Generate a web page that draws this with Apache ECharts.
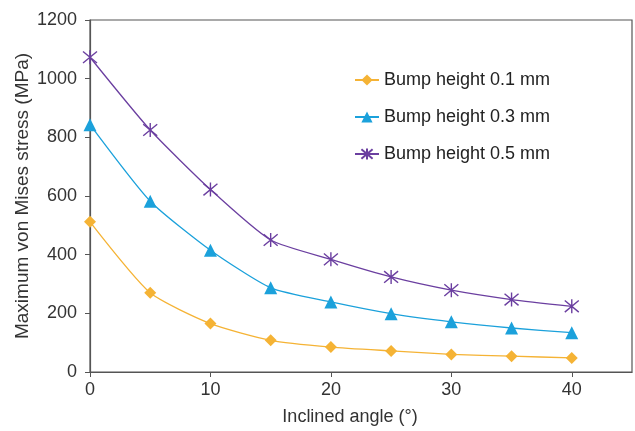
<!DOCTYPE html>
<html>
<head>
<meta charset="utf-8">
<script src="https://cdn.jsdelivr.net/npm/echarts@6/dist/echarts.min.js"></script>
<style>
  html, body { margin: 0; padding: 0; background: #fff; }
  #chart { width: 635px; height: 431px; }
</style>
</head>
<body>
<div id="chart"></div>
<script>
// 数据
var angles = [0, 5, 10, 15, 20, 25, 30, 35, 40];
var h01 = [512, 270, 165, 108, 85, 72, 60, 54, 48];
var h03 = [843, 582, 415, 287, 239, 199, 171, 150, 134];
var h05 = [1073, 825, 622, 450, 384, 324, 279, 247, 224];
var seriesNames = ["Bump height 0.1 mm", "Bump height 0.3 mm", "Bump height 0.5 mm"];
var xTicks = [0, 10, 20, 30, 40];

var asterisk = "path://M0,0L10,10M10,0L0,10M5,-1L5,11";

function pairs(ys) {
  return angles.map(function (a, i) { return [a, ys[i]]; });
}

var chart = echarts.init(document.getElementById("chart"));
chart.setOption({
  animation: false,
  textStyle: { fontFamily: "Liberation Sans, Arial, sans-serif" },
  grid: {
    left: 90, right: 3, top: 20, bottom: 59,
    outerBoundsMode: "none",
    containLabel: false,
    show: true, borderColor: "#555", borderWidth: 1.2, backgroundColor: "transparent"
  },
  legend: {
    orient: "vertical",
    left: 349, top: 66,
    itemGap: 19,
    itemWidth: 24, itemHeight: 14,
    textStyle: { fontSize: 18, color: "#222" },
    data: seriesNames
  },
  xAxis: {
    type: "value",
    min: 0, max: 45,
    name: "Inclined angle (°)",
    nameLocation: "middle",
    nameGap: 36,
    nameMoveOverlap: false,
    nameTextStyle: { fontSize: 18, color: "#333", padding: [0, 22, 0, 0] },
    axisLine: { lineStyle: { color: "#555", width: 1.2 } },
    axisTick: { show: true, length: 5, lineStyle: { color: "#555" }, customValues: xTicks },
    axisLabel: { fontSize: 18, color: "#333", margin: 9, customValues: xTicks },
    splitLine: { show: false }
  },
  yAxis: {
    type: "value",
    min: 0, max: 1200, interval: 200,
    name: "Maximum von Mises stress (MPa)",
    nameLocation: "middle",
    nameGap: 58,
    nameMoveOverlap: false,
    nameTextStyle: { fontSize: 19, color: "#333" },
    axisLine: { show: true, lineStyle: { color: "#555", width: 1.2 } },
    axisTick: { show: true, length: 5, lineStyle: { color: "#555" } },
    axisLabel: { fontSize: 18, color: "#333", margin: 13, formatter: function (v) { return String(v); } },
    splitLine: { show: false }
  },
  series: [
    {
      name: seriesNames[0], type: "line", data: pairs(h01),
      smooth: 0.2,
      symbol: "diamond", symbolSize: 12,
      lineStyle: { color: "#F5B335", width: 1.3 },
      itemStyle: { color: "#F5B335" }
    },
    {
      name: seriesNames[1], type: "line", data: pairs(h03),
      smooth: 0.2,
      symbol: "triangle", symbolSize: 13,
      lineStyle: { color: "#1BA1DB", width: 1.3 },
      itemStyle: { color: "#1BA1DB" }
    },
    {
      name: seriesNames[2], type: "line", data: pairs(h05),
      smooth: 0.2,
      symbol: asterisk, symbolSize: 14,
      lineStyle: { color: "#6B3FA0", width: 1.3 },
      itemStyle: { color: "none", borderColor: "#6B3FA0", borderWidth: 1.4 }
    }
  ]
});
</script>
</body>
</html>
